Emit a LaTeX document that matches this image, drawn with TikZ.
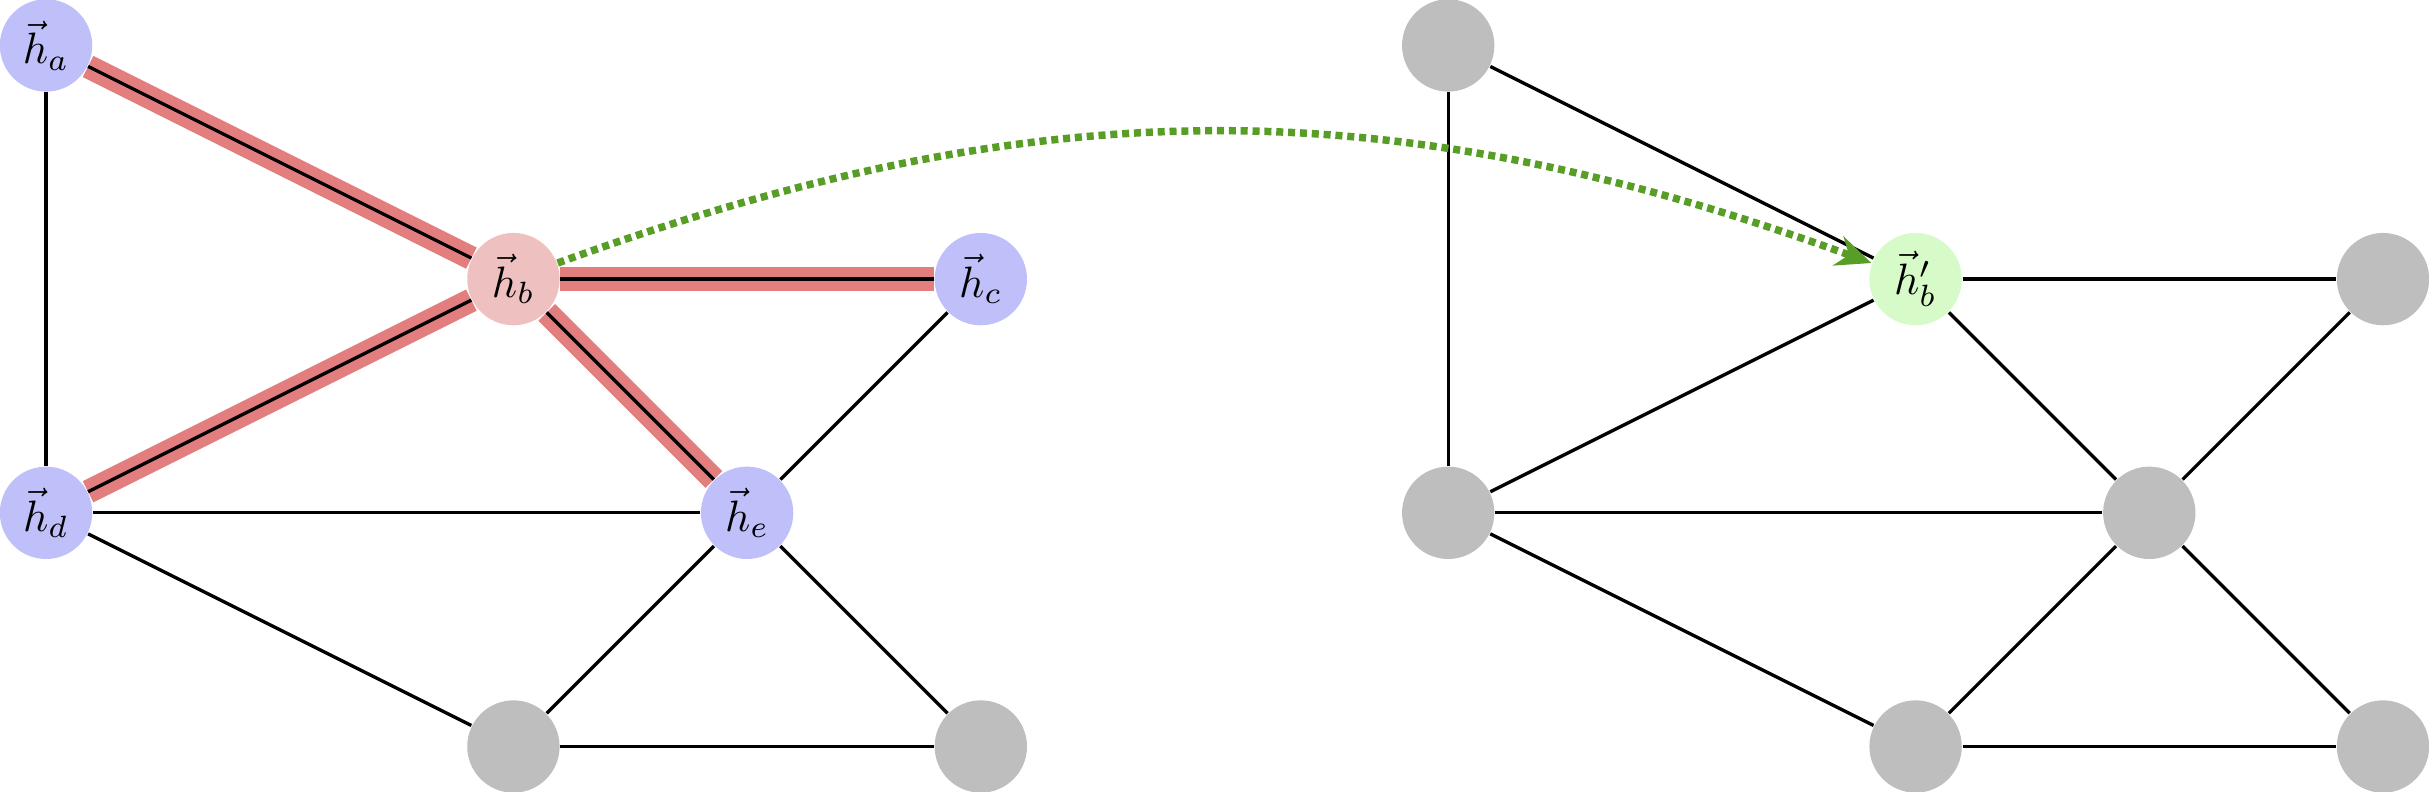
\documentclass[tikz,border=0pt]{standalone}
\usepackage{amsmath}
\usetikzlibrary{arrows.meta}
\definecolor{vblue}{RGB}{191,191,250}
\definecolor{vpink}{RGB}{238,192,192}
\definecolor{vgreen}{RGB}{214,250,200}
\definecolor{vgray}{RGB}{190,190,190}
\definecolor{hlred}{RGB}{226,126,126}
\definecolor{flowgreen}{RGB}{88,157,38}
\tikzset{%
  vertex/.style  = {circle, inner sep=0pt, minimum size=0.739cm},%
  feat/.style    = {vertex, fill=vblue},%
  target/.style  = {vertex, fill=vpink},%
  updated/.style = {vertex, fill=vgreen},%
  blank/.style   = {vertex, fill=vgray},%
  link/.style    = {line width=0.75pt},%
  hot/.style     = {line width=0.75pt, preaction={draw=hlred, line width=5.4pt}},%
  flow/.style    = {draw=flowgreen, line width=1.7pt, dash pattern=on 1.6pt off 1.1pt,%
                    -{Stealth[length=8pt, width=7pt]}}%
}

\begin{document}
\begin{tikzpicture}[x=1.87cm, y=1.87cm]
  \useasboundingbox (-0.197,-0.1945) rectangle (10.197,3.1945);
  % left graph
  \node [feat]   (ha) at (0,3) {$\vec{h}_a$};
  \node [target] (hb) at (2,2) {$\vec{h}_b$};
  \node [feat]   (hc) at (4,2) {$\vec{h}_c$};
  \node [feat]   (hd) at (0,1) {$\vec{h}_d$};
  \node [feat]   (he) at (3,1) {$\vec{h}_e$};
  \node [blank]  (lf) at (2,0) {};
  \node [blank]  (lg) at (4,0) {};
  % right graph
  \node [blank]   (ra) at (6,3) {};
  \node [updated] (rb) at (8,2) {$\vec{h}'_b$};
  \node [blank]   (rc) at (10,2) {};
  \node [blank]   (rd) at (6,1) {};
  \node [blank]   (re) at (9,1) {};
  \node [blank]   (rf) at (8,0) {};
  \node [blank]   (rg) at (10,0) {};
  % edges
  \foreach \u in {ha,hc,hd,he}
    \draw [hot] (hb) -- (\u);
  \foreach \u/\v in {ha/hd, hc/he, hd/he, hd/lf, he/lf, he/lg, lf/lg,%
                     ra/rd, ra/rb, rb/rc, rb/rd, rb/re, rc/re, rd/re, rd/rf, re/rf, re/rg, rf/rg}
    \draw [link] (\u) -- (\v);
  \draw [flow] (hb) to[bend left=20] (rb);
\end{tikzpicture}
\end{document}
